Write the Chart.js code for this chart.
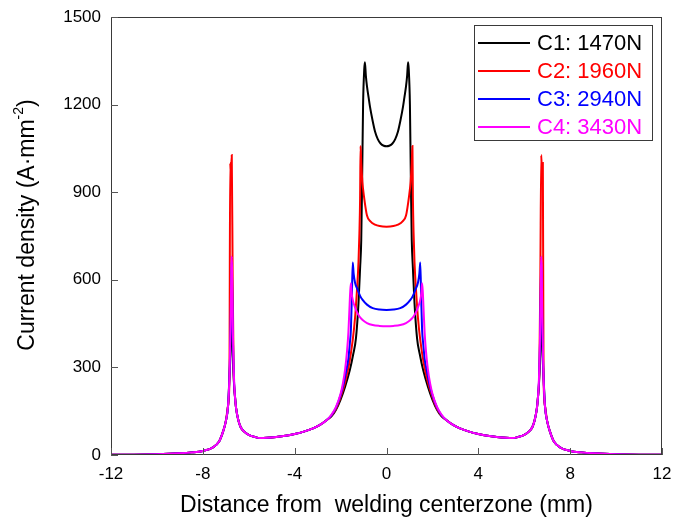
<!DOCTYPE html>
<html>
<head>
<meta charset="utf-8">
<script src="https://cdn.jsdelivr.net/npm/chart.js@4.4.1/dist/chart.umd.min.js"></script>
<style>
  body { margin: 0; background: #fff; }
  canvas { display: block; }
</style>
</head>
<body>
<canvas id="densityChart" width="673" height="519"></canvas>
<script>
const ctx = document.getElementById('densityChart').getContext('2d');
const FONT = '"Liberation Sans", Arial, sans-serif';

const seriesLabels = ['C1: 1470N', 'C2: 1960N', 'C3: 2940N', 'C4: 3430N'];
const seriesColors = ['#000000', '#ff0000', '#0000ff', '#ff00ff'];
const xTicks = [-12, -8, -4, 0, 4, 8, 12];
const yTicks = [0, 300, 600, 900, 1200, 1500];

// tails shared by all four loads (outside the edge spikes and between spike and core)
const tailLX = [-12, -11, -10, -9, -8.5, -8, -7.6, -7.3, -7.12, -7.0, -6.9, -6.84];
const tailLY = [0.5, 1, 2.5, 6, 9, 14, 24, 45, 80, 115, 170, 270];
const shoulderLX = [-6.6, -6.55, -6.45, -6.35, -6.2, -6.0, -5.75, -5.5, -5.2, -4.8, -4.4, -4.0, -3.6, -3.2, -2.9, -2.6];
const shoulderLY = [200, 160, 118, 95, 80, 69, 62, 58, 59, 62, 66, 72, 80, 91, 103, 120];
const shoulderRX = [2.6, 2.9, 3.2, 3.6, 4.0, 4.4, 4.8, 5.2, 5.5, 5.75, 6.0, 6.2, 6.35, 6.45, 6.55, 6.6];
const shoulderRY = [120, 103, 91, 80, 72, 66, 62, 59, 58, 62, 69, 80, 95, 118, 160, 200];
const tailRX = [6.84, 6.9, 7.0, 7.12, 7.3, 7.6, 8, 8.5, 9, 10, 11, 12];
const tailRY = [270, 170, 115, 80, 45, 24, 14, 9, 6, 2.5, 1, 0.5];

// edge spikes
const spikeLX = [-6.79, -6.76, -6.74, -6.72, -6.69, -6.64];
const spikeRX = [6.64, 6.69, 6.72, 6.74, 6.76, 6.79];
const c1SpikeL = [360, 470, 530, 450, 340, 240];
const c1SpikeR = [240, 340, 450, 530, 470, 360];
const c3SpikeL = [420, 600, 660, 560, 400, 250];
const c3SpikeR = [250, 400, 560, 660, 600, 420];
const c4SpikeL = [450, 640, 680, 600, 420, 260];
const c4SpikeR = [260, 420, 600, 680, 640, 450];
const c2SpikeLX = [-6.81, -6.775, -6.74, -6.70, -6.66];
const c2SpikeLY = [1000, 960, 1027, 600, 300];
const c2SpikeRX = [6.66, 6.70, 6.74, 6.775, 6.81];
const c2SpikeRY = [300, 600, 1027, 960, 1000];

// central region, -2.4 .. 2.4 mm
const c1CoreX = [-2.4, -2.2, -2.0, -1.8, -1.6, -1.45, -1.33, -1.22, -1.15, -1.1, -1.06, -1.02, -0.97, -0.94, -0.9, -0.85, -0.78, -0.72, -0.6, -0.5, -0.38, -0.25, -0.12, 0,
                 0.12, 0.25, 0.38, 0.5, 0.6, 0.72, 0.78, 0.85, 0.9, 0.94, 0.97, 1.02, 1.06, 1.1, 1.15, 1.22, 1.33, 1.45, 1.6, 1.8, 2.0, 2.2, 2.4];
const c1CoreY = [132, 155, 190, 235, 290, 345, 400, 520, 640, 736, 950, 1200, 1320, 1345, 1300, 1262, 1225, 1193, 1143, 1108, 1082, 1066, 1059, 1057,
                 1059, 1066, 1082, 1108, 1143, 1193, 1225, 1262, 1300, 1345, 1320, 1200, 950, 736, 640, 520, 400, 345, 290, 235, 190, 155, 132];

const c2CoreX = [-2.4, -2.2, -2.0, -1.8, -1.62, -1.47, -1.37, -1.29, -1.22, -1.18, -1.15, -1.13, -1.1, -1.05, -0.98, -0.85, -0.7, -0.5, -0.3, 0,
                 0.3, 0.5, 0.7, 0.85, 0.98, 1.05, 1.1, 1.13, 1.15, 1.18, 1.22, 1.29, 1.37, 1.47, 1.62, 1.8, 2.0, 2.2, 2.4];
const c2CoreY = [134, 158, 198, 250, 315, 394, 470, 560, 660, 760, 880, 1058, 1000, 935, 885, 820, 800, 789, 784, 782,
                 784, 789, 800, 820, 885, 935, 1000, 1058, 880, 760, 660, 560, 470, 394, 315, 250, 198, 158, 134];

const c3CoreX = [-2.4, -2.2, -2.0, -1.85, -1.75, -1.66, -1.6, -1.55, -1.51, -1.47, -1.43, -1.37, -1.25, -1.15, -1.04, -0.85, -0.6, -0.3, 0,
                 0.3, 0.6, 0.85, 1.04, 1.15, 1.25, 1.37, 1.43, 1.47, 1.51, 1.55, 1.6, 1.66, 1.75, 1.85, 2.0, 2.2, 2.4];
const c3CoreY = [136, 162, 205, 250, 290, 330, 380, 430, 540, 659, 620, 590, 565, 545, 531, 515, 503, 498, 497,
                 498, 503, 515, 531, 545, 565, 590, 620, 659, 540, 430, 380, 330, 290, 250, 205, 162, 136];

const c4CoreX = [-2.4, -2.2, -2.0, -1.9, -1.8, -1.72, -1.66, -1.62, -1.58, -1.55, -1.52, -1.47, -1.4, -1.33, -1.2, -1.04, -0.85, -0.6, -0.3, 0,
                 0.3, 0.6, 0.85, 1.04, 1.2, 1.33, 1.4, 1.47, 1.52, 1.55, 1.58, 1.62, 1.66, 1.72, 1.8, 1.9, 2.0, 2.2, 2.4];
const c4CoreY = [138, 165, 210, 245, 295, 355, 420, 490, 560, 588, 555, 531, 512, 497, 477, 462, 452, 445, 442, 441,
                 442, 445, 452, 462, 477, 497, 512, 531, 555, 588, 560, 490, 420, 355, 295, 245, 210, 165, 138];

function joinPoints(xs, ys) {
  const pts = [];
  for (let i = 0; i < xs.length; i++) {
    pts.push({x: xs[i], y: ys[i]});
  }
  return pts;
}

function buildSeries(spikeLx, spikeLy, coreX, coreY, spikeRx, spikeRy) {
  return [].concat(
    joinPoints(tailLX, tailLY),
    joinPoints(spikeLx, spikeLy),
    joinPoints(shoulderLX, shoulderLY),
    joinPoints(coreX, coreY),
    joinPoints(shoulderRX, shoulderRY),
    joinPoints(spikeRx, spikeRy),
    joinPoints(tailRX, tailRY)
  );
}

const seriesData = [
  buildSeries(spikeLX, c1SpikeL, c1CoreX, c1CoreY, spikeRX, c1SpikeR),
  buildSeries(c2SpikeLX, c2SpikeLY, c2CoreX, c2CoreY, c2SpikeRX, c2SpikeRY),
  buildSeries(spikeLX, c3SpikeL, c3CoreX, c3CoreY, spikeRX, c3SpikeR),
  buildSeries(spikeLX, c4SpikeL, c4CoreX, c4CoreY, spikeRX, c4SpikeR)
];

const datasets = seriesLabels.map(function (label, i) {
  return {
    label: label,
    data: seriesData[i],
    borderColor: seriesColors[i],
    backgroundColor: seriesColors[i],
    borderWidth: 2,
    pointRadius: 0,
    cubicInterpolationMode: 'monotone',
    order: seriesLabels.length - i   // C4 ends up on top
  };
});

// frame, inward ticks, axis titles and boxed legend
const decorations = {
  id: 'decorations',
  afterDraw(chart) {
    const c = chart.ctx;
    const a = chart.chartArea;
    const xs = chart.scales.x;
    const ys = chart.scales.y;
    c.save();

    c.strokeStyle = '#3a3a3a';
    c.lineWidth = 1;
    c.strokeRect(a.left + 0.5, a.top + 0.5, a.right - a.left - 1, a.bottom - a.top - 1);

    c.strokeStyle = '#555';
    c.beginPath();
    xTicks.forEach(function (v) {
      const px = Math.round(xs.getPixelForValue(v)) + 0.5;
      c.moveTo(px, a.bottom);
      c.lineTo(px, a.bottom - 7);
    });
    yTicks.forEach(function (v) {
      const py = Math.round(ys.getPixelForValue(v)) + 0.5;
      c.moveTo(a.left, py);
      c.lineTo(a.left + 7, py);
    });
    c.stroke();

    // x title
    c.fillStyle = '#000';
    c.font = '23px ' + FONT;
    c.textAlign = 'center';
    c.textBaseline = 'middle';
    c.fillText('Distance from  welding centerzone (mm)', (a.left + a.right) / 2, 506);

    // y title with superscript
    const partA = 'Current density (A\u00b7mm';
    const sup = '-2';
    const partB = ')';
    c.font = '23px ' + FONT;
    const wA = c.measureText(partA).width;
    const wB = c.measureText(partB).width;
    c.font = '14px ' + FONT;
    const wS = c.measureText(sup).width;
    const total = wA + wS + wB;
    c.translate(28, 225);
    c.rotate(-Math.PI / 2);
    c.textAlign = 'left';
    c.textBaseline = 'middle';
    c.font = '23px ' + FONT;
    c.fillText(partA, -total / 2, 0);
    c.font = '14px ' + FONT;
    c.fillText(sup, -total / 2 + wA, -9);
    c.font = '23px ' + FONT;
    c.fillText(partB, -total / 2 + wA + wS, 0);
    c.setTransform(1, 0, 0, 1, 0, 0);

    // legend box
    const boxL = 474, boxT = 25, boxW = 178, boxH = 115;
    c.strokeStyle = '#3a3a3a';
    c.strokeRect(boxL + 0.5, boxT + 0.5, boxW, boxH);
    c.font = '22px ' + FONT;
    c.textAlign = 'left';
    c.textBaseline = 'middle';
    seriesLabels.forEach(function (label, i) {
      const y = 43 + i * 28;
      c.strokeStyle = seriesColors[i];
      c.lineWidth = 2;
      c.beginPath();
      c.moveTo(478, y);
      c.lineTo(530, y);
      c.stroke();
      c.fillStyle = seriesColors[i];
      c.fillText(label, 537, y + 1);
    });
    c.restore();
  }
};

// keep the plot box where the layout padding puts it
function dropEdgePadding(scale) {
  scale.paddingTop = 0;
  scale.paddingBottom = 0;
  scale.paddingLeft = 0;
  scale.paddingRight = 0;
}

const densityChart = new Chart(ctx, {
  type: 'line',
  data: { datasets: datasets },
  options: {
    responsive: false,
    animation: false,
    devicePixelRatio: 1,
    layout: { padding: { top: 17, right: 11, left: 0, bottom: 0 } },
    plugins: {
      legend: { display: false },
      tooltip: { enabled: false }
    },
    scales: {
      x: {
        type: 'linear',
        min: -12,
        max: 12,
        ticks: { stepSize: 4, color: '#000', font: { size: 17, family: FONT }, padding: 9, maxRotation: 0,
                 callback: function (v) { return String(v); } },
        grid: { display: false, drawTicks: false },
        border: { display: false },
        afterFit: function (scale) { scale.height = 64; dropEdgePadding(scale); }
      },
      y: {
        min: 0,
        max: 1500,
        ticks: { stepSize: 300, color: '#000', font: { size: 17, family: FONT }, padding: 10,
                 callback: function (v) { return String(v); } },
        grid: { display: false, drawTicks: false },
        border: { display: false },
        afterFit: function (scale) { scale.width = 111; dropEdgePadding(scale); }
      }
    }
  },
  plugins: [decorations]
});
</script>
</body>
</html>
